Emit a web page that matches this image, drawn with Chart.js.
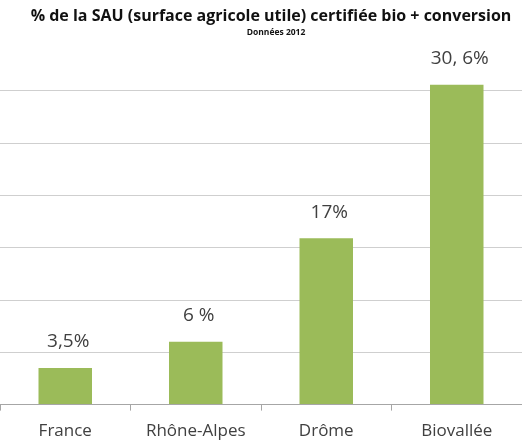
<!DOCTYPE html>
<html>
<head>
<meta charset="utf-8">
<script src="https://cdn.jsdelivr.net/npm/chart.js@4/dist/chart.umd.min.js"></script>
<style>
	html, body { margin: 0; padding: 0; background: #fff; }
	#wrap { width: 522px; height: 441px; }
</style>
</head>
<body>
<div id="wrap"><canvas id="myChartSau"></canvas></div>
<script>
var titre = '% de la SAU (surface agricole utile) certifiée bio + conversion';
var sousTitre = 'Données 2012';
var regions = ['France', 'Rhône-Alpes', 'Drôme', 'Biovallée'];
var valeurs = [3.5, 6, 15.9, 30.6];
var etiquettes = ['3,5%', '6 %', '17%', '30, 6%'];

var police = '"Open Sans", Lato, sans-serif';

// titre + sous-titre dessinés à la main pour les placer comme sur l'image
var titrePlugin = {
	id: 'titrePlugin',
	afterDraw: function (chart) {
		var ctx = chart.ctx;
		ctx.save();
		ctx.textAlign = 'center';
		ctx.textBaseline = 'middle';
		ctx.fillStyle = '#111';
		ctx.font = 'bold 16px ' + police;
		ctx.fillText(titre, 271, 16);
		ctx.font = 'bold 8.5px ' + police;
		ctx.fillText(sousTitre, 276, 33);
		ctx.restore();
	}
};

// valeurs au dessus des barres
var etiquettePlugin = {
	id: 'etiquettePlugin',
	afterDatasetsDraw: function (chart) {
		var ctx = chart.ctx;
		var meta = chart.getDatasetMeta(0);
		ctx.save();
		ctx.textAlign = 'center';
		ctx.textBaseline = 'middle';
		ctx.fillStyle = '#404040';
		ctx.font = '19px ' + police;
		for (var i = 0; i < meta.data.length; i++) {
			var bar = meta.data[i];
			ctx.fillText(etiquettes[i], bar.x + 3, bar.y - 26);
		}
		ctx.restore();
	}
};

var myChartSau = new Chart('myChartSau', {
	type: 'bar',
	data: {
		labels: regions,
		datasets: [{
			data: valeurs,
			backgroundColor: '#9bbb59',
			borderWidth: 0,
			barPercentage: 0.41,
			categoryPercentage: 1
		}]
	},
	options: {
		responsive: true,
		maintainAspectRatio: false,
		animation: false,
		layout: {
			padding: { top: 70, left: 0, right: 0, bottom: -10 }
		},
		plugins: {
			legend: { display: false },
			title: { display: false },
			tooltip: { enabled: false }
		},
		scales: {
			x: {
				grid: {
					offset: true,
					drawOnChartArea: false,
					tickLength: 6,
					color: '#a6a6a6'
				},
				border: { display: true, color: '#a6a6a6' },
				ticks: {
					padding: 10,
					color: '#404040',
					font: { family: police, size: 17 }
				}
			},
			y: {
				min: 0,
				max: 32,
				ticks: {
					display: false,
					stepSize: 5,
					includeBounds: false
				},
				grid: {
					drawTicks: false,
					color: function (c) { return c.tick && c.tick.value === 0 ? '#a6a6a6' : '#cfcfcf'; }
				},
				border: { display: false }
			}
		}
	},
	plugins: [titrePlugin, etiquettePlugin]
});
</script>
</body>
</html>
